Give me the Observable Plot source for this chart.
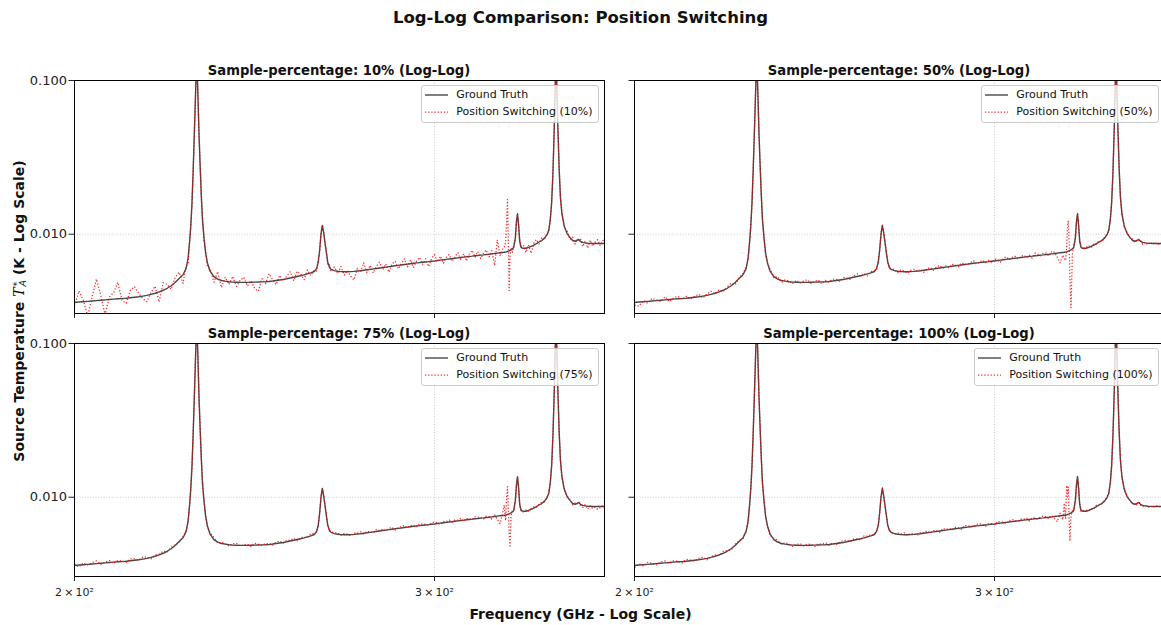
<!DOCTYPE html>
<html>
<head>
<meta charset="utf-8">
<script src="https://cdn.jsdelivr.net/npm/d3@7"></script>
<script src="https://cdn.jsdelivr.net/npm/@observablehq/plot@0.6"></script>
<style>
  html, body { margin: 0; padding: 0; background: #fff; overflow: hidden; }
  #fig { position: relative; width: 1161px; height: 625px; overflow: hidden; font-family: "DejaVu Sans", sans-serif; color: #111; background: #fff; }
  .abs { position: absolute; white-space: nowrap; }
  .suptitle { font-size: 16.5px; font-weight: bold; line-height: 16.5px; width: 1161px; left: 0; text-align: center; }
  .ptitle { font-size: 13.2px; font-weight: bold; line-height: 13.2px; width: 530px; text-align: center; }
  .xlabel { font-size: 14px; font-weight: bold; line-height: 14px; width: 1161px; left: 0; text-align: center; }
  .ylabel { font-size: 14px; font-weight: bold; line-height: 14px; transform: translate(-50%, -50%) rotate(-90deg); }
  .legend { background: rgba(255,255,255,0.8); border: 1px solid #cccccc; border-radius: 3px; padding: 1px 5px 2px 3px; font-size: 11px; color: #111; }
  .legend .row { display: flex; align-items: center; height: 16.5px; line-height: 16.5px; }
  .legend svg { flex: none; margin-right: 8px; }
</style>
</head>
<body>
<div id="fig"></div>
<script>
// ---------------- data ----------------
const samplePercentages = ["10%", "50%", "75%", "100%"];
const xTicks = [200, 300];
const xTickMantissa = ["2", "3"];
const yTicks = [0.01, 0.1];
const xDomain = [200, 363.3];
const yDomain = [0.00305, 0.1];

// Ground truth spectrum: [frequency GHz, T_A* in mK]
const groundTruth = [
  // A 200-226
  [200,3.60],[201,3.62],[202,3.64],[203,3.66],[204,3.68],[205,3.70],[206,3.72],[207,3.74],[208,3.76],[209,3.78],
  [210,3.80],[211,3.81],[212,3.83],[213,3.86],[214,3.89],[215,3.92],[216,3.96],[217,4.00],[218,4.06],[219,4.13],
  [220,4.22],[221,4.32],[222,4.45],[223,4.62],[224,4.85],[225,5.15],[226,5.45],
  // B main line
  [226.8,6.0],[227.3,7.0],[227.7,9.0],[228.0,11.5],[228.3,16],[228.6,26],[228.9,45],[229.2,80],[229.5,140],[229.8,85],
  [230.1,45],[230.4,28],[230.7,18],[231.0,12.5],[231.4,9.5],[231.8,7.6],[232.3,6.5],
  // C 233-262
  [233,5.75],[234,5.30],[235,5.10],[236,5.00],[237,4.95],[238,4.91],[239,4.88],[240,4.87],[241,4.86],[242,4.86],
  [243,4.86],[244,4.87],[245,4.88],[246,4.89],[247,4.90],[248,4.91],[249,4.93],[250,4.96],[251,5.00],[252,5.04],
  [253,5.08],[254,5.13],[255,5.19],[256,5.25],[257,5.31],[258,5.37],[259,5.44],[260,5.52],[261,5.60],[262,5.72],
  // D second line
  [262.7,6.0],[263.2,6.6],[263.6,7.9],[264.0,10.0],[264.4,11.4],[264.8,10.2],[265.2,8.8],[265.6,7.6],[266.0,6.6],[266.5,6.1],[267,5.9],
  // E 268-324
  [268,5.80],[269,5.74],[270,5.71],[271,5.70],[272,5.70],[273,5.71],[274,5.73],[275,5.76],[276,5.79],[277,5.83],
  [278,5.87],[279,5.91],[280,5.95],[281,5.99],[282,6.03],[283,6.07],[284,6.11],[285,6.15],[286,6.19],[287,6.23],
  [288,6.27],[289,6.31],[290,6.35],[291,6.39],[292,6.43],[293,6.47],[294,6.51],[295,6.54],[296,6.57],[297,6.60],
  [298,6.63],[299,6.67],[300,6.70],[301,6.74],[302,6.78],[303,6.82],[304,6.86],[305,6.90],[306,6.94],[307,6.98],
  [308,7.02],[309,7.06],[310,7.10],[311,7.13],[312,7.17],[313,7.20],[314,7.24],[315,7.27],[316,7.31],[317,7.34],
  [318,7.38],[319,7.41],[320,7.45],[321,7.49],[322,7.53],[323,7.57],[324,7.61],
  // F 324.5-327.5
  [324.5,7.63],[325,7.66],[325.4,7.69],[325.7,7.72],[326.0,7.76],[326.3,7.80],[326.6,7.85],[327.0,7.92],[327.5,8.02],
  // G third line, dip, strong line
  [328.0,8.2],[328.6,9.5],[329.0,12.0],[329.4,13.6],[329.8,11.5],[330.2,9.0],[330.7,8.2],[331.5,8.1],[332.5,8.1],[333.5,8.2],
  [334.5,8.35],[335.5,8.5],[336.5,8.7],[337.5,8.9],[338.5,9.1],[339.5,9.4],[340.5,9.9],[341.2,10.6],[341.8,12.5],
  [342.3,16],[342.8,25],[343.3,48],[343.7,95],[344.0,150],[344.3,95],[344.7,50],[345.2,27],[345.7,17.5],
  [346.3,13.5],[347.2,11.3],[348.3,10.1],[349.5,9.5],
  // H 350-363
  [350.5,9.1],[351.5,9.0],[352.2,9.1],[352.9,9.25],[353.6,9.0],[354.5,8.85],[355.5,8.78],[356.5,8.74],[357.5,8.72],
  [358.5,8.70],[359.5,8.70],[360.5,8.70],[361.5,8.70],[362.5,8.70],[363.3,8.70]
];

// Position-switching spectra: deviation from ground truth (%) at each ground-truth frequency
const ps10Dev = [
  -5,18,2,-20,6,38,8,-20,4,10,28,-3,-7,12,17,5,-4,-9,3,11,-14,12,6,-5,8,10,-12,
  4,-8,3,-2,2,-1,0,0,0,0,0,1,-2,3,-4,5,-6,
  4,-8,12,-10,6,-4,9,-6,3,8,-5,2,-9,-13,5,-3,12,2,-6,7,-2,4,10,-5,8,3,-7,6,-4,2,
  -4,5,-3,2,0,1,-2,3,-5,4,-3,
  6,-3,8,-5,2,-7,-12,4,-2,12, -4,6,-6,3,9,-3,5,-8,4,7, -5,2,9,-4,6,-6,3,8,-3,5,
  -7,4,10,-2,6,-5,3,7,-4,2, 8,-3,5,-6,4,9,-2,6,-5,3, 7,-4,5,-16,22,-4,6,
  8,15,60,118,20,-45,-10,3,-5,
  4,-3,2,0,-2,3,2,5,-6,4,-10,3,6,-3,5,-2,3,-2,2, 0,0,0,0,0,0,0,0,0, 3,-2,4,-3,
  5,-4,2,-3,4,-6,3,-7,5,-4,2,6,-3,4,7
];
const ps50Dev = [
  -4,-6,2,-3,4,1,-2,5,-3,2,4,-1,3,-2,1,4,-3,2,5,-1,3,-2,2,4,-3,1,2,
  2,-2,1,-1,1,0,0,0,0,0,0,0,1,-1,2,-2,1,
  3,-2,4,-3,2,1,-2,3,-1,2,4,-2,1,3,-3,2,-1,3,2,-2,3,1,-2,2,4,-1,2,-3,2,1,
  -2,2,-1,1,0,0,1,-1,2,-2,1,
  2,-2,3,1,-2,2,3,-1,2,-3, 1,3,-2,2,4,-1,2,-2,3,1, -2,3,1,-1,2,4,-2,1,3,-1,
  2,-2,3,1,-3,2,4,-1,2,3, -2,1,3,-1,2,-3,4,2,-1,3, 2,-3,4,2,-6,-14,-4,
  -8,-12,8,45,58,15,-35,-58,-8,
  2,-1,1,0,-1,1,2,-2,1,3,-2,2,-1,2,-2,1,2,-1,1, 0,0,0,0,0,0,0,0,0, 2,-1,2,-1,
  2,-2,1,-1,2,-3,1,-2,2,-1,2,-2,1,-1,2
];
const ps75Dev = [
  2,-3,3,-1,2,4,-2,1,3,-2,2,1,-2,3,2,-1,3,2,-2,2,1,3,-1,2,1,-2,2,
  1,-1,1,0,0,0,0,0,0,0,0,0,0,1,-1,1,-2,
  2,3,-1,2,1,-2,2,3,-1,1,2,-2,3,1,-1,2,1,-2,2,3,-1,2,1,3,-2,2,1,-1,3,2,
  -1,1,0,1,0,0,0,-1,1,-1,1,
  1,2,-1,2,1,-2,2,1,3,-1, 2,1,-2,3,1,2,-1,2,3,-2, 1,2,3,-1,2,1,-2,3,2,1,
  -1,2,3,1,-2,2,1,3,-1,2, 1,3,-2,2,1,-1,3,2,1,-2, 2,1,-3,3,-5,-11,5,
  17,-8,30,52,10,-25,-40,-5,2,
  1,-1,1,0,-1,1,1,-1,2,-1,1,2,-1,1,2,-1,1,0,1, 0,0,0,0,0,0,0,0,0, 1,-1,1,2,
  -2,2,-1,1,-2,-3,2,-4,1,-3,-1,-4,-2,1,-3
];
const ps100Dev = [
  -3,2,-2,3,1,-2,2,3,-1,2,1,-2,3,1,-1,2,3,-2,1,2,-1,3,1,-2,2,1,-1,
  1,-1,1,0,0,0,0,0,0,0,0,0,0,-1,1,-1,1,
  -2,2,3,-1,2,1,-2,1,3,-1,2,1,-2,2,1,3,-1,2,-2,1,3,2,-1,2,1,-2,3,1,2,-1,
  1,-1,0,0,1,0,-1,1,0,-1,1,
  -1,2,1,3,-1,2,1,-2,2,1, 3,-1,2,1,-2,3,1,2,-1,2, 1,-2,3,2,1,-1,2,3,1,-2,
  2,1,-1,3,2,1,-2,2,3,1, -1,2,1,3,-2,2,1,-1,2,3, 1,-2,2,-3,-8,4,-6,
  20,-6,55,30,50,-10,-34,-5,2,
  1,0,1,0,0,1,-1,1,2,-1,1,-1,2,1,-1,1,2,-1,1, 0,0,0,0,0,0,0,0,0, 1,-1,1,-1,
  -1,1,-2,2,-1,-2,1,-1,-2,1,-1,2,-1,-2,1
];
const psDeviations = [ps10Dev, ps50Dev, ps75Dev, ps100Dev];

// ---------------- build ----------------
psDeviations.forEach((d, i) => {
  if (d.length !== groundTruth.length) throw new Error(`series ${i}: ${d.length} vs ${groundTruth.length}`);
});
const gtData = groundTruth.map(([f, mk]) => ({f, v: mk / 1000}));
const psData = psDeviations.map(dev => groundTruth.map(([f, mk], j) => ({f, v: mk * (1 + dev[j] / 100) / 1000})));

const fig = document.getElementById("fig");
function addDiv(cls, html, style) {
  const d = document.createElement("div");
  d.className = "abs " + cls;
  d.innerHTML = html;
  Object.assign(d.style, style);
  fig.appendChild(d);
  return d;
}

addDiv("suptitle", "Log-Log Comparison: Position Switching", {top: "10px"});
addDiv("xlabel", "Frequency (GHz - Log Scale)", {top: "607px"});
addDiv("ylabel",
  'Source Temperature <span style="font-style:italic;font-weight:normal;font-family:\'DejaVu Serif\',serif">T</span>' +
  '<span style="display:inline-block;vertical-align:-0.25em;line-height:0.62em;font-size:68%;font-style:italic;font-weight:normal;text-align:left;margin-left:1px">' +
  '<span style="display:block">*</span><span style="display:block">A</span></span> (K - Log Scale)',
  {left: "19px", top: "311px"});

const PW = 530, PH = 233;
const frames = [{x: 74, y: 80}, {x: 634, y: 80}, {x: 74, y: 343}, {x: 634, y: 343}];
const xFmt = d => `${xTickMantissa[xTicks.indexOf(d)]}\u2009×\u200910²`;

frames.forEach((fr, i) => {
  const isLeft = i % 2 === 0, isBottom = i >= 2;
  const mL = isLeft ? 74 : 12, mT = 4, mR = 4, mB = isBottom ? 30 : 10;
  const chart = Plot.plot({
    width: mL + PW + mR,
    height: mT + PH + mB,
    marginLeft: mL, marginRight: mR, marginTop: mT, marginBottom: mB,
    x: {type: "log", domain: xDomain, label: null},
    y: {type: "log", domain: yDomain, label: null},
    style: {fontFamily: "DejaVu Sans", background: "transparent", color: "#222", overflow: "visible"},
    marks: [
      Plot.gridY(yTicks, {stroke: "#b0b0b0", strokeOpacity: 0.8, strokeWidth: 0.8, strokeDasharray: "1,1.7"}),
      Plot.gridX(xTicks, {stroke: "#b0b0b0", strokeOpacity: 0.8, strokeWidth: 0.8, strokeDasharray: "1,1.7"}),
      Plot.line(gtData, {x: "f", y: "v", stroke: "#000", strokeOpacity: 0.72, strokeWidth: 1.4, clip: true}),
      Plot.line(psData[i], {x: "f", y: "v", stroke: "#ff0000", strokeOpacity: 0.85, strokeWidth: 1.25,
        strokeDasharray: "1.25,1.9", strokeLinecap: "butt", clip: true}),
      Plot.frame({stroke: "#000", strokeWidth: 1}),
      Plot.axisY({ticks: yTicks, tickSize: 5.5, tickPadding: 2, fontSize: 13, label: null,
        tickFormat: isLeft ? d3.format(".3f") : () => ""}),
      Plot.axisX({ticks: xTicks, tickSize: 5, tickPadding: 7, fontSize: 11, label: null,
        tickFormat: isBottom ? xFmt : () => ""})
    ]
  });
  chart.style.position = "absolute";
  chart.style.left = (fr.x - mL) + "px";
  chart.style.top = (fr.y - mT) + "px";
  fig.appendChild(chart);

  addDiv("ptitle", `Sample-percentage: ${samplePercentages[i]} (Log-Log)`, {left: fr.x + "px", top: (fr.y - 16) + "px"});

  const lg = addDiv("legend",
    '<div class="row"><svg width="23" height="10"><line x1="0" y1="5" x2="23" y2="5" stroke="#000" stroke-opacity="0.72" stroke-width="1.4"/></svg>Ground Truth</div>' +
    '<div class="row"><svg width="23" height="10"><line x1="0" y1="5" x2="23" y2="5" stroke="#ff0000" stroke-opacity="0.85" stroke-width="1.25" stroke-dasharray="1.25,1.9"/></svg>' +
    `Position Switching (${samplePercentages[i]})</div>`,
    {top: (fr.y + 5) + "px"});
  const rightEdge = fr.x + PW - 5.5;
  lg.style.right = (1161 - rightEdge) + "px";
});
</script>
</body>
</html>
